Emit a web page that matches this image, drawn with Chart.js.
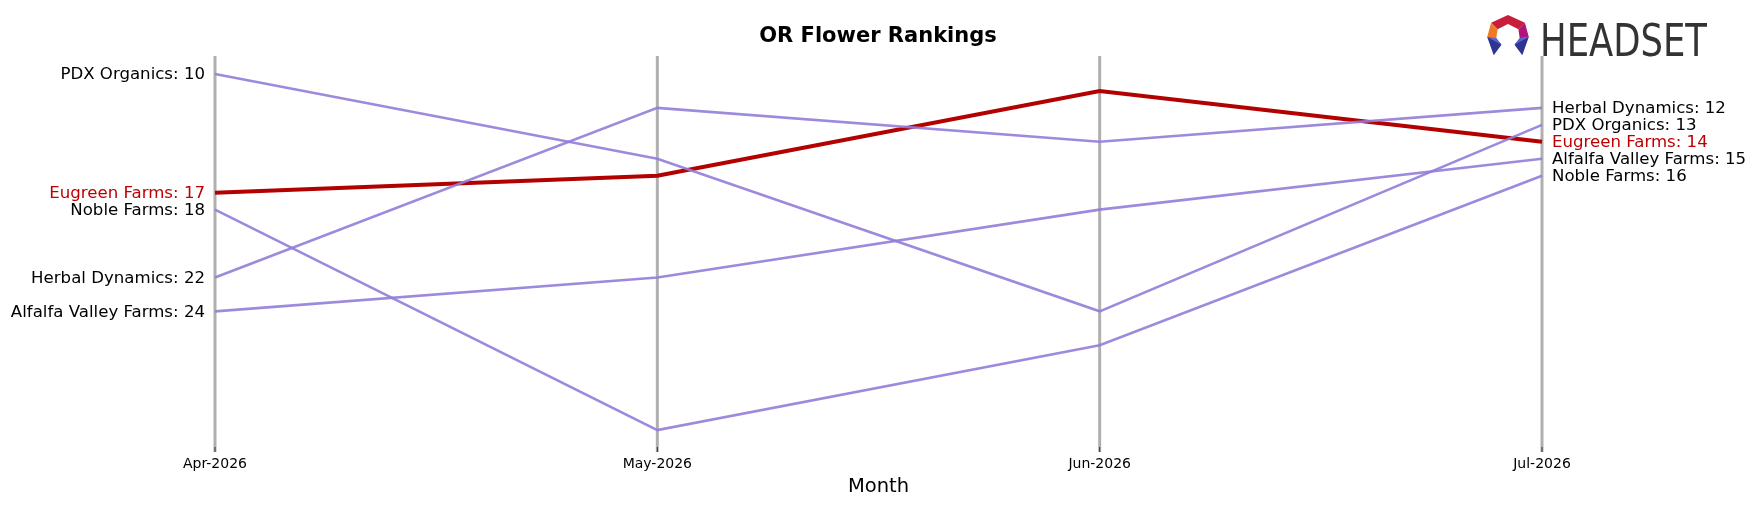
<!DOCTYPE html>
<html><head><meta charset="utf-8">
<script src="https://cdn.jsdelivr.net/npm/chart.js@4"></script>
<style>html,body{margin:0;padding:0;background:#fff}#w{width:1757px;height:507px}</style>
</head><body><div id="w"><canvas id="c"></canvas></div>
<script>
const months = ["Apr-2026","May-2026","Jun-2026","Jul-2026"];
const pdxOrganics = [10,15,24,13];
const eugreenFarms = [17,16,11,14];
const nobleFarms = [18,31,26,16];
const herbalDynamics = [22,12,14,12];
const alfalfaValley = [24,22,18,15];
const seriesNames = ["PDX Organics","Noble Farms","Herbal Dynamics","Alfalfa Valley Farms","Eugreen Farms"];
const seriesData = [pdxOrganics,nobleFarms,herbalDynamics,alfalfaValley,eugreenFarms];
const highlight = "Eugreen Farms";

const FONT = "'DejaVu Sans', sans-serif";
const datasets = seriesNames.map((n,i)=>({
  label:n, data:seriesData[i],
  borderColor: n===highlight ? '#b30000' : 'rgba(147,125,216,0.9)',
  borderWidth: n===highlight ? 4 : 2.6,
  pointRadius:0, tension:0, fill:false
}));

const deco = {
  id:'deco',
  beforeDatasetsDraw(chart){
    const {ctx, scales:{x}, chartArea:a} = chart;
    ctx.save();
    months.forEach((m,i)=>{
      const px=x.getPixelForValue(i);
      ctx.strokeStyle='#b0b0b0'; ctx.lineWidth=3;
      ctx.beginPath(); ctx.moveTo(px,a.top-1); ctx.lineTo(px,a.bottom+5); ctx.stroke();
      ctx.strokeStyle='#333'; ctx.lineWidth=1;
      ctx.beginPath(); ctx.moveTo(px,a.bottom); ctx.lineTo(px,a.bottom+5); ctx.stroke();
      ctx.fillStyle='#000'; ctx.font='14px '+FONT; ctx.textAlign='center'; ctx.textBaseline='middle';
      ctx.fillText(m,px,a.bottom+17);
    });
    ctx.font='19.5px '+FONT; ctx.fillText('Month',(a.left+a.right)/2,a.bottom+40);
    ctx.font='bold 21px '+FONT; ctx.fillText('OR Flower Rankings',878,37);
    ctx.restore();
  },
  afterDatasetsDraw(chart){
    const {ctx, scales:{x,y}} = chart;
    ctx.save();
    ctx.font='16.6px '+FONT; ctx.textBaseline='middle';
    const last=months.length-1;
    seriesNames.forEach((n,i)=>{
      const d=seriesData[i];
      ctx.fillStyle = n===highlight ? '#c00000' : '#000';
      ctx.textAlign='right';
      ctx.fillText(n+': '+d[0], x.getPixelForValue(0)-10, y.getPixelForValue(d[0])+1);
      ctx.textAlign='left';
      ctx.fillText(n+': '+d[last], x.getPixelForValue(last)+10, y.getPixelForValue(d[last])+1);
    });
    // logo
    ctx.save();
    ctx.translate(1508,37); ctx.scale(1.3,1.3);
    ctx.fillStyle='#c81e3c';
    ctx.beginPath(); ctx.moveTo(0,-17);ctx.lineTo(13,-11);ctx.lineTo(8,-6);ctx.lineTo(0,-10);ctx.lineTo(-8,-6);ctx.lineTo(-13,-11);ctx.closePath(); ctx.fill();
    ctx.fillStyle='#b0157a';
    ctx.beginPath(); ctx.moveTo(13,-11);ctx.lineTo(16,0);ctx.lineTo(9,1);ctx.lineTo(8,-6);ctx.closePath();ctx.fill();
    ctx.fillStyle='#ef7a22';
    ctx.beginPath(); ctx.moveTo(-13,-11);ctx.lineTo(-16,0);ctx.lineTo(-9,1);ctx.lineTo(-8,-6);ctx.closePath();ctx.fill();
    ctx.fillStyle='#2e3590';
    [-1,1].forEach(s=>{ctx.beginPath();ctx.moveTo(s*16,0);ctx.lineTo(s*9,1);ctx.lineTo(s*5,6);ctx.lineTo(s*11,14);ctx.closePath();ctx.fill();});
    ctx.fillStyle='#5a62d0';
    [-1,1].forEach(s=>{ctx.beginPath();ctx.moveTo(s*16,0);ctx.lineTo(s*9,1);ctx.lineTo(s*5,6);ctx.closePath();ctx.fill();});
    ctx.restore();
    ctx.fillStyle='#333';
    ctx.font='45px '+FONT; ctx.textAlign='left'; ctx.textBaseline='alphabetic';
    const w=ctx.measureText('HEADSET').width;
    ctx.translate(1540,56); ctx.scale(167/w,1); ctx.fillText('HEADSET',0,0);
    ctx.restore();
  }
};

new Chart(document.getElementById('c'),{
  type:'line',
  data:{labels:months,datasets},
  options:{
    responsive:true, maintainAspectRatio:false, animation:false,
    layout:{padding:{left:215,right:215,top:57,bottom:60}},
    plugins:{legend:{display:false},tooltip:{enabled:false},title:{display:false}},
    scales:{
      x:{type:'category',display:false,offset:false},
      y:{display:false,reverse:true,min:9,max:32}
    }
  },
  plugins:[deco]
});
</script></body></html>
